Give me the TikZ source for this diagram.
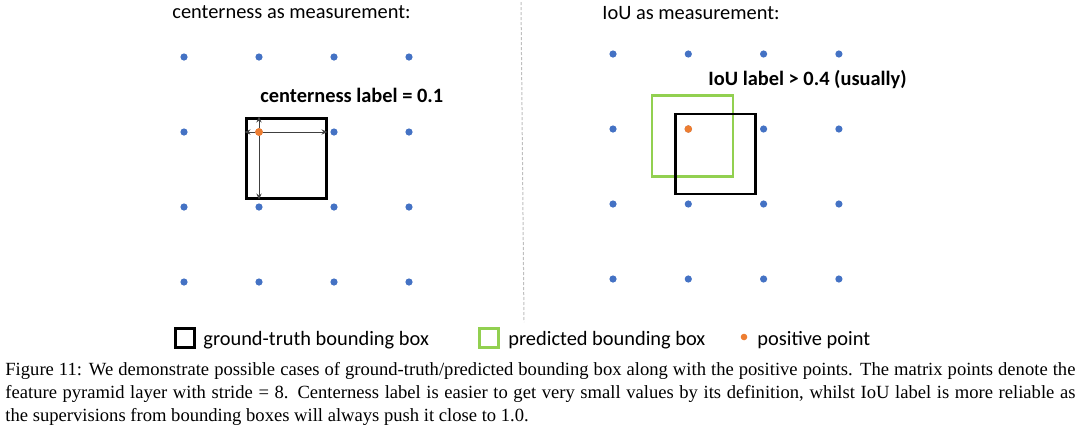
\documentclass[tikz,border=0pt]{standalone}
\usepackage{fontspec}
\setmainfont{Liberation Serif}
\setsansfont{Carlito}
\usetikzlibrary{arrows.meta}

\definecolor{gridblue}{HTML}{4472C4}
\definecolor{posorange}{HTML}{ED7D31}
\definecolor{predgreen}{HTML}{92D050}
\definecolor{arrgray}{HTML}{404040}

\tikzset{
  gdot/.style={circle,fill=gridblue,inner sep=0pt,minimum size=3.6pt},
  pdot/.style={circle,fill=posorange,inner sep=0pt,minimum size=3.8pt},
  gtbox/.style={draw=black,inner sep=0pt,minimum size=40pt},
  predbox/.style={draw=predgreen,inner sep=0pt,minimum size=40.5pt,line width=1.2pt},
  dimarrow/.style={draw=arrgray,line width=0.5pt,-{Stealth[length=3pt,width=2.6pt]}},
}

\begin{document}
\begin{tikzpicture}[x=0.5pt,y=-0.5pt]
        \useasboundingbox (0,0) rectangle (1080,425);

        % headings
        \begin{scope}[every node/.style={font=\sffamily\fontsize{10.2}{12}\selectfont,anchor=base west,inner sep=0pt}]
          \node (ltitle) at (172,18) {centerness as measurement:};
          \node (rtitle) at (602,19) {IoU as measurement:};
          \node[font=\sffamily\bfseries\fontsize{10.2}{12}\selectfont] (llabel) at (260,102) {centerness label = 0.1};
          \node[font=\sffamily\bfseries\fontsize{10.2}{12}\selectfont] (rlabel) at (708,85) {IoU label > 0.4 (usually)};
        \end{scope}

        % divider
        \coordinate (dtop) at (521,2);
        \coordinate (dbot) at (524,322);
        \draw[black!25,dashed,dash pattern=on 1.5pt off 1pt,line width=0.5pt] (dtop) -- (dbot);

        % feature points
        \foreach \i in {1,...,4} {
          \foreach \j in {1,...,4} {
            \node[gdot] (l\i\j) at ({184+75*(\i-1)},{57+75*(\j-1)}) {};
            \node[gdot] (r\i\j) at ({613+75.3*(\i-1)},{54+75*(\j-1)}) {};
          }
        }

        % centerness case
        \node[gtbox,line width=1.5pt] (gtl) at (286,158) {};
        \node[pdot] (lpos) at (l22) {};
        \path[dimarrow] (lpos) -- (lpos -| gtl.west);
        \path[dimarrow] (lpos) -- (lpos -| gtl.east);
        \path[dimarrow] (lpos) -- (lpos |- gtl.north);
        \path[dimarrow] (lpos) -- (lpos |- gtl.south);
        \node[pdot] at (l22) {};

        % IoU case
        \node[predbox] (predr) at (692.5,136) {};
        \node[gtbox,line width=1.2pt] (gtr) at (715.5,154) {};
        \node[pdot] (rpos) at (r22) {};

        % legend
        \begin{scope}[every node/.style={font=\sffamily\fontsize{10.2}{12}\selectfont,anchor=base west,inner sep=0pt}]
          \node[draw=black,line width=1.5pt,minimum size=9.5pt,anchor=center] (keygt) at (184.5,337.5) {};
          \node (keygttext) at (203,345) {ground-truth bounding box};
          \node[draw=predgreen,line width=1.5pt,minimum size=9.5pt,anchor=center] (keypred) at (488.5,337.5) {};
          \node (keypredtext) at (508,345) {predicted bounding box};
          \node[pdot,anchor=center,minimum size=3.3pt] (keypos) at (744,337) {};
          \node (keypostext) at (757,345) {positive point};
        \end{scope}

        % caption
        \node[anchor=north west,inner sep=0pt,text width=535pt,align=justify,
              font=\rmfamily\fontsize{9.3}{11.5}\selectfont] (caption) at (5,361.5)
          {Figure 11: We demonstrate possible cases of ground-truth/predicted bounding box along with the positive points. The matrix points denote the\linebreak
           feature pyramid layer with stride = 8. Centerness label is easier to get very small values by its definition, whilst IoU label is more reliable as\linebreak
           the supervisions from bounding boxes will always push it close to 1.0.};

      \end{tikzpicture}
\end{document}
